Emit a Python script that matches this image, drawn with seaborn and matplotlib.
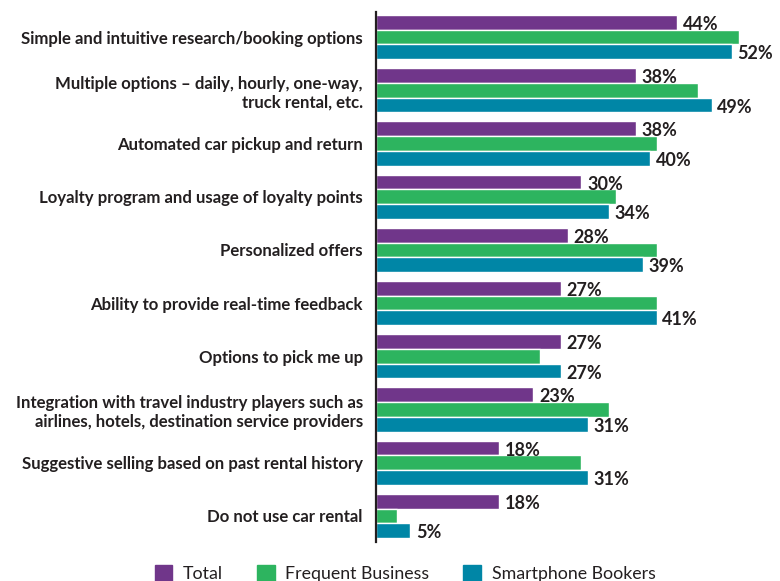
import pandas as pd
import matplotlib
matplotlib.use('Agg')
import matplotlib.pyplot as plt
import seaborn as sns

# Chart data
CATEGORIES = [
    'Simple and intuitive research/booking options',
    'Multiple options \u2013 daily, hourly, one-way,\ntruck rental, etc.',
    'Automated car pickup and return',
    'Loyalty program and usage of loyalty points',
    'Personalized offers',
    'Ability to provide real-time feedback',
    'Options to pick me up',
    'Integration with travel industry players such as\nairlines, hotels, destination service providers',
    'Suggestive selling based on past rental history',
    'Do not use car rental',
]
SERIES = ['Total', 'Frequent Business', 'Smartphone Bookers']
total = [44, 38, 38, 30, 28, 27, 27, 23, 18, 18]
frequent_business = [53, 47, 41, 35, 41, 41, 24, 34, 30, 3]
smartphone_bookers = [52, 49, 40, 34, 39, 41, 27, 31, 31, 5]
COLORS = ['#70368A', '#2DB45F', '#0086A6']
TEXT = '#231F20'

df = pd.DataFrame({
    'category': CATEGORIES * 3,
    'series': [s for s in SERIES for _ in CATEGORIES],
    'value': total + frequent_business + smartphone_bookers,
})

sns.set_style('white')
plt.rcParams['font.family'] = ['Lato', 'DejaVu Sans']

fig = plt.figure(figsize=(7.8, 5.81), dpi=100)
ax = fig.add_axes([376 / 780, 1 - 542 / 581, 1 - 376 / 780, 530 / 581])

sns.barplot(data=df, y='category', x='value', hue='series', hue_order=SERIES,
            order=CATEGORIES, palette=COLORS, saturation=1, width=0.83,
            orient='h', ax=ax, legend=False)

# only Total and Smartphone Bookers carry value labels, sitting a touch low
for idx in (0, 2):
    for bar in ax.containers[idx]:
        w = bar.get_width()
        yc = bar.get_y() + bar.get_height() / 2
        ax.annotate(f'{w:.0f}%', (w, yc), xytext=(4, -1.5), textcoords='offset points',
                    va='center', ha='left', fontsize=13, fontweight='bold', color=TEXT)

ax.set_xlim(0, 59)
ax.set_ylim(9.49, -0.47)
ax.set_xlabel('')
ax.set_ylabel('')
ax.set_xticks([])
for side in ('top', 'right', 'bottom'):
    ax.spines[side].set_visible(False)
ax.spines['left'].set_color(TEXT)
ax.spines['left'].set_linewidth(1.6)
ax.tick_params(axis='y', length=0, pad=9.5)
for lbl in ax.get_yticklabels():
    lbl.set_fontsize(12.1)
    lbl.set_fontweight('bold')
    lbl.set_color(TEXT)
    lbl.set_horizontalalignment('right')
    lbl.set_multialignment('right')

handles = [plt.Rectangle((0, 0), 1, 1, color=c) for c in COLORS]
fig.legend(handles, SERIES, loc='lower center', bbox_to_anchor=(405 / 780, -0.03),
           ncol=3, frameon=False, fontsize=12.8, handlelength=1.0, handleheight=1.0,
           handletextpad=0.6, columnspacing=1.9, labelcolor=TEXT)

fig.savefig('out.png', dpi=100)
